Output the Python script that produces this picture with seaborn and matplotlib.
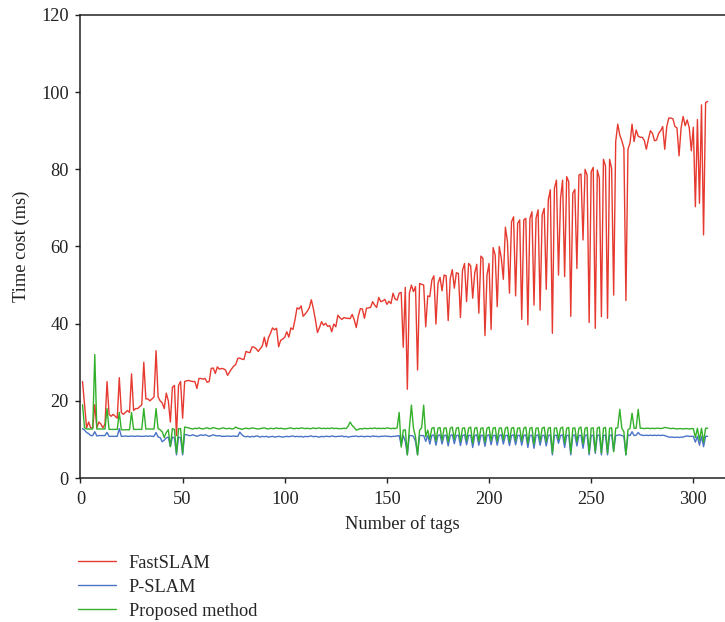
import numpy as np
import pandas as pd
import matplotlib
matplotlib.use("Agg")
import matplotlib.pyplot as plt
import seaborn as sns

# ---------------- data ----------------
tags = list(range(1, 308))

fastslam = [
    25, 19, 13, 14.5, 13, 13, 19, 13, 14.5, 14,
    13, 14, 25, 16.5, 16, 16.5, 16, 15.5, 26, 17,
    16.5, 17, 17.5, 17, 27, 17.5, 18, 18, 18.5, 19,
    30, 20.5, 20.5, 20, 20.5, 21, 33, 21, 20, 19.5,
    18, 22, 20, 14.5, 23.5, 24, 11, 24, 25, 15.5,
    25, 25.2, 25.3, 25.1, 25, 25, 23.2, 25.8, 25.8, 25.6,
    25.8, 24.8, 25, 28.4, 28.5, 27.1, 28.8, 28.2, 28.4, 28.3,
    28, 26.6, 27.5, 28.3, 29, 29.4, 31, 31.1, 30.8, 30.7,
    32.8, 32.6, 32.5, 34, 33.9, 33.5, 32.8, 33.5, 34.2, 36.5,
    34, 36.3, 37.5, 38.9, 38.4, 38.8, 34, 35.7, 36, 36.5,
    37.9, 36.5, 38.9, 38.5, 41, 44.1, 43.8, 44.6, 41.9, 42.5,
    43.2, 44.1, 46.2, 43.9, 41, 37.7, 39, 40.5, 39.6, 40.1,
    39.3, 39.5, 37.9, 39.9, 39.2, 42.2, 41.5, 41.1, 41.6, 41.4,
    41.4, 41.3, 42.4, 41, 39, 42, 43.9, 43.8, 41.4, 44,
    44.1, 44.2, 45.7, 44.8, 44.2, 46.8, 45.7, 45.9, 46.3, 45,
    45.8, 45.2, 47.9, 46.4, 46.1, 47.9, 48.1, 33.9, 49.4, 23,
    47.9, 50, 48.3, 49.6, 28, 50.4, 50.2, 50, 39.2, 47.2,
    47, 51.3, 52.4, 39.9, 50.4, 52, 48.5, 52.6, 52.4, 40.8,
    51.7, 54, 49.2, 53.2, 53, 41.6, 53.8, 55.6, 45.7, 55.6,
    55, 46.6, 53.2, 55.4, 42.7, 57.5, 56.9, 36.9, 52.6, 55.6,
    38.5, 59.7, 57.8, 44.4, 60, 57, 51.5, 65, 61.3, 47.9,
    66.4, 67.7, 47.2, 66, 66.9, 41.1, 66.9, 67.3, 39.7, 67.3,
    69, 44.8, 67.3, 69.5, 43.5, 68.2, 69.9, 48.9, 72.1, 74.7,
    37.5, 75.1, 77.2, 52.6, 72.5, 77.2, 52.2, 78.1, 76.8, 41.9,
    73.8, 74.8, 54.3, 78.5, 78.8, 61.7, 80, 78.5, 40.3, 79.4,
    80.5, 38.8, 79.8, 77.7, 41.8, 82.6, 80.9, 41.4, 82.6, 80.3,
    47.4, 87.2, 91.7, 88.9, 87.4, 85.5, 46, 85.2, 86.8, 91.7,
    87.2, 90.2, 88.6, 88.3, 88.3, 87.5, 85.2, 87.8, 90, 89.3,
    87.4, 87.6, 89.3, 90, 91.1, 85.2, 91.1, 93.3, 93.3, 93.1,
    91.1, 90.7, 83.5, 90.7, 93.7, 91.3, 92.8, 90.8, 84.8, 90.9,
    70.3, 92.9, 71.2, 96.7, 63, 97.3, 97.6,
]

pslam = [
    # 1-50
    12.8, 12.4, 11.8, 11.5, 11, 11, 12, 10.9, 11, 11,
    11, 11, 11.8, 10.8, 10.8, 10.8, 10.8, 10.8, 12.8, 10.8,
    10.8, 10.9, 10.8, 10.8, 10.9, 10.8, 10.8, 10.9, 10.8, 10.8,
    10.8, 10.9, 10.8, 10.9, 10.8, 10.8, 11.8, 10.6, 10.5, 9.4,
    9.8, 10.4, 10.6, 8.2, 10.6, 10.4, 6, 10.6, 10.4, 6,
    # 51-155
    11.3, 11.2, 11, 11, 11.2, 11, 10.8, 11, 11.2, 11,
    11.2, 11, 10.8, 11, 11.2, 11, 10.9, 11, 10.8, 10.8,
    10.8, 10.9, 10.8, 10.8, 10.9, 10.8, 10.8, 11.9, 11.2, 10.8,
    10.7, 10.8, 10.6, 10.8, 10.7, 10.9, 10.8, 10.6, 10.8, 10.7,
    10.8, 10.6, 10.7, 10.8, 10.6, 10.7, 10.8, 10.7, 10.6, 10.7,
    10.8, 10.7, 10.8, 10.9, 10.7, 10.8, 10.7, 10.8, 10.6, 10.8,
    10.7, 10.8, 10.9, 10.7, 10.8, 10.7, 10.6, 10.8, 10.7, 10.8,
    10.8, 10.7, 10.9, 10.8, 10.7, 10.8, 10.8, 10.9, 10.7, 10.8,
    10.6, 10.7, 10.8, 10.8, 10.9, 10.7, 10.8, 10.8, 10.7, 10.8,
    10.8, 10.7, 10.9, 10.8, 10.8, 10.7, 10.8, 10.8, 10.9, 10.8,
    10.8, 10.7, 10.8, 10.8, 10.9,
    # 156-170
    11, 8.5, 11, 9.5, 6, 11, 11, 10.8, 9.5, 6, 11, 11, 11, 9.5, 11,
    # 171-270
    8.8, 11, 11.2, 8.5, 11, 11.2, 8.8, 11, 11.1, 8.3,
    11, 11.2, 8.9, 11, 11.1, 8.4, 11, 11.2, 8.6, 11,
    11.1, 7.9, 11, 11.2, 8.5, 11, 11.1, 8.2, 11, 11.2,
    8.6, 11, 11.1, 8.5, 11, 11.2, 8.8, 11, 11.1, 8.4,
    11, 11.2, 8.6, 11, 11.1, 8.5, 11, 11.2, 7.9, 11,
    11.1, 7.7, 11, 11.2, 8.5, 11, 11.1, 8.3, 11, 11.2,
    6, 11, 11.1, 9, 11, 11.2, 7.9, 11, 11.1, 6,
    11, 11.2, 8.3, 11, 11.1, 7.7, 11, 11.2, 6, 11,
    11.1, 6.4, 11, 11.2, 6, 11, 11.1, 6, 11, 11.2,
    7, 11, 11.1, 11.2, 11, 10.8, 6, 11.2, 11, 12,
    # 271-307
    11, 11.1, 11.8, 11.2, 11.1, 11, 11.1, 11, 11.1, 11,
    11.1, 11, 11.1, 11, 11.1, 11, 10.8, 10.6, 10.6, 10.6,
    10.5, 10.6, 10.5, 10.6, 10.6, 10.8, 10.9, 10.8, 10.8, 10.8,
    9.3, 10.8, 8.5, 10.8, 8.1, 10.8, 10.8,
]

proposed = [
    # 1-50
    19, 13, 12.7, 12.7, 12.7, 12.7, 32, 12.7, 12.7, 12.7,
    12.7, 12.7, 18, 12.6, 12.6, 12.6, 12.6, 12.6, 17, 12.5,
    12.5, 12.5, 12.5, 12.5, 17, 12.6, 12.6, 12.6, 12.6, 12.6,
    18, 12.7, 12.7, 12.7, 12.7, 12.7, 18, 12.8, 12.5, 12,
    10.5, 11.8, 12.5, 8.1, 12.8, 12.6, 6.4, 12.8, 12.8, 6.4,
    # 51-155
    13.2, 13.1, 13, 12.8, 12.7, 12.9, 12.8, 13, 12.8, 12.7,
    12.9, 13, 12.8, 12.8, 13.1, 12.9, 12.8, 12.7, 12.9, 13,
    12.8, 12.8, 12.9, 12.7, 12.8, 13.2, 12.9, 12.8, 12.6, 12.8,
    12.9, 12.8, 12.8, 13, 12.9, 12.8, 12.7, 12.8, 12.9, 13,
    12.8, 12.7, 12.9, 12.8, 12.8, 13, 12.8, 12.9, 12.8, 12.7,
    12.8, 12.9, 13, 12.8, 12.8, 12.9, 12.8, 13, 12.9, 12.8,
    12.9, 12.8, 12.8, 13, 12.8, 12.9, 13, 12.8, 12.9, 12.8,
    12.9, 12.8, 13, 12.8, 12.9, 12.8, 12.8, 12.8, 12.9, 12.8,
    13.4, 14.5, 13.6, 13.1, 12.4, 12.6, 12.8, 12.7, 12.9, 12.8,
    12.8, 12.9, 12.8, 13, 12.8, 12.9, 12.8, 12.9, 12.8, 13,
    12.9, 12.8, 12.9, 12.8, 13,
    # 156-170
    17, 8, 12.4, 12.5, 6, 12.9, 18.9, 12.9, 10.7, 6, 12.4, 13, 18.9, 10.7, 12.4,
    # 171-261
    10, 12.9, 13.1, 9.6, 12.9, 13.1, 9.8, 12.9, 13, 9.4,
    12.9, 13.2, 10, 12.9, 13.1, 9.5, 12.9, 13, 9.7, 12.9,
    13.2, 9, 12.9, 13.1, 9.6, 12.9, 13, 9.3, 12.9, 13.2,
    9.7, 12.9, 13.1, 9.6, 12.9, 13, 9.9, 12.9, 13.2, 9.5,
    12.9, 13.1, 9.7, 12.9, 13, 9.6, 12.9, 13.2, 9, 12.9,
    13.1, 8.8, 12.9, 13, 9.6, 12.9, 13.2, 9.4, 12.9, 13.1,
    6.5, 12.9, 13, 10, 12.9, 13.2, 9, 12.9, 13.1, 6.5,
    12.9, 13, 9.4, 12.9, 13.2, 8.8, 12.9, 13.1, 6.5, 12.9,
    13, 6.8, 12.9, 13.2, 6.5, 12.9, 13.1, 6.5, 12.9, 13, 6.8,
    # 262-273
    12.9, 13, 17.8, 12.9, 12, 6, 12.5, 12.9, 16.8, 12.9, 12.9, 17.8,
    # 274-307
    12.9, 12.9, 12.8, 12.9, 12.9, 12.8, 12.9,
    12.8, 12.9, 12.9, 12.8, 12.9, 13.1, 13, 12.9, 12.8, 12.9,
    12.8, 12.7, 12.8, 12.8, 12.7, 12.8, 12.8, 12.7, 12.8, 12.8,
    10.5, 12.9, 9.8, 12.9, 9.3, 12.9, 12.9,
]

series_names = ["FastSLAM", "P-SLAM", "Proposed method"]
colors = {"FastSLAM": "#e63a30", "P-SLAM": "#4b74c6", "Proposed method": "#33b02a"}

df = pd.concat([
    pd.DataFrame({"tags": tags, "time": fastslam, "method": "FastSLAM"}),
    pd.DataFrame({"tags": tags, "time": pslam, "method": "P-SLAM"}),
    pd.DataFrame({"tags": tags, "time": proposed, "method": "Proposed method"}),
], ignore_index=True)

# ---------------- style ----------------
sns.set_style("ticks")
plt.rcParams["font.family"] = ["Liberation Serif", "DejaVu Serif"]
FS = 13.2

fig = plt.figure(figsize=(7.25, 6.22), dpi=100)
ax = fig.add_axes([0.111, 0.2315, 0.889, 0.7444])

sns.lineplot(data=df, x="tags", y="time", hue="method", hue_order=series_names,
             palette=colors, linewidth=1.0, ax=ax, legend=False, estimator=None,
             sort=False)

ax.set_xlim(0, 315.5)
ax.set_ylim(0, 120)
ax.set_xticks([0, 50, 100, 150, 200, 250, 300])
ax.set_yticks([0, 20, 40, 60, 80, 100, 120])
ax.set_xlabel("Number of tags", fontsize=FS, color="#222222", labelpad=5)
ax.set_ylabel("Time cost (ms)", fontsize=FS, color="#222222", labelpad=8)
ax.tick_params(axis="both", direction="out", length=3.5, width=1.0,
               labelsize=FS, colors="#222222")
ax.tick_params(axis="x", pad=6)
ax.tick_params(axis="y", pad=5)
for side in ["left", "bottom", "top"]:
    ax.spines[side].set_visible(True)
    ax.spines[side].set_linewidth(1.1)
    ax.spines[side].set_color("#222222")
ax.spines["right"].set_visible(False)

from matplotlib.lines import Line2D
handles = [Line2D([], [], color=colors[n], lw=1.0) for n in series_names]
fig.legend(handles, series_names, loc="upper left", bbox_to_anchor=(0.107, 0.108),
           frameon=False, fontsize=FS, handlelength=2.1, handletextpad=0.7,
           labelspacing=0.38, borderpad=0, borderaxespad=0)

fig.savefig("out.png", dpi=100)
